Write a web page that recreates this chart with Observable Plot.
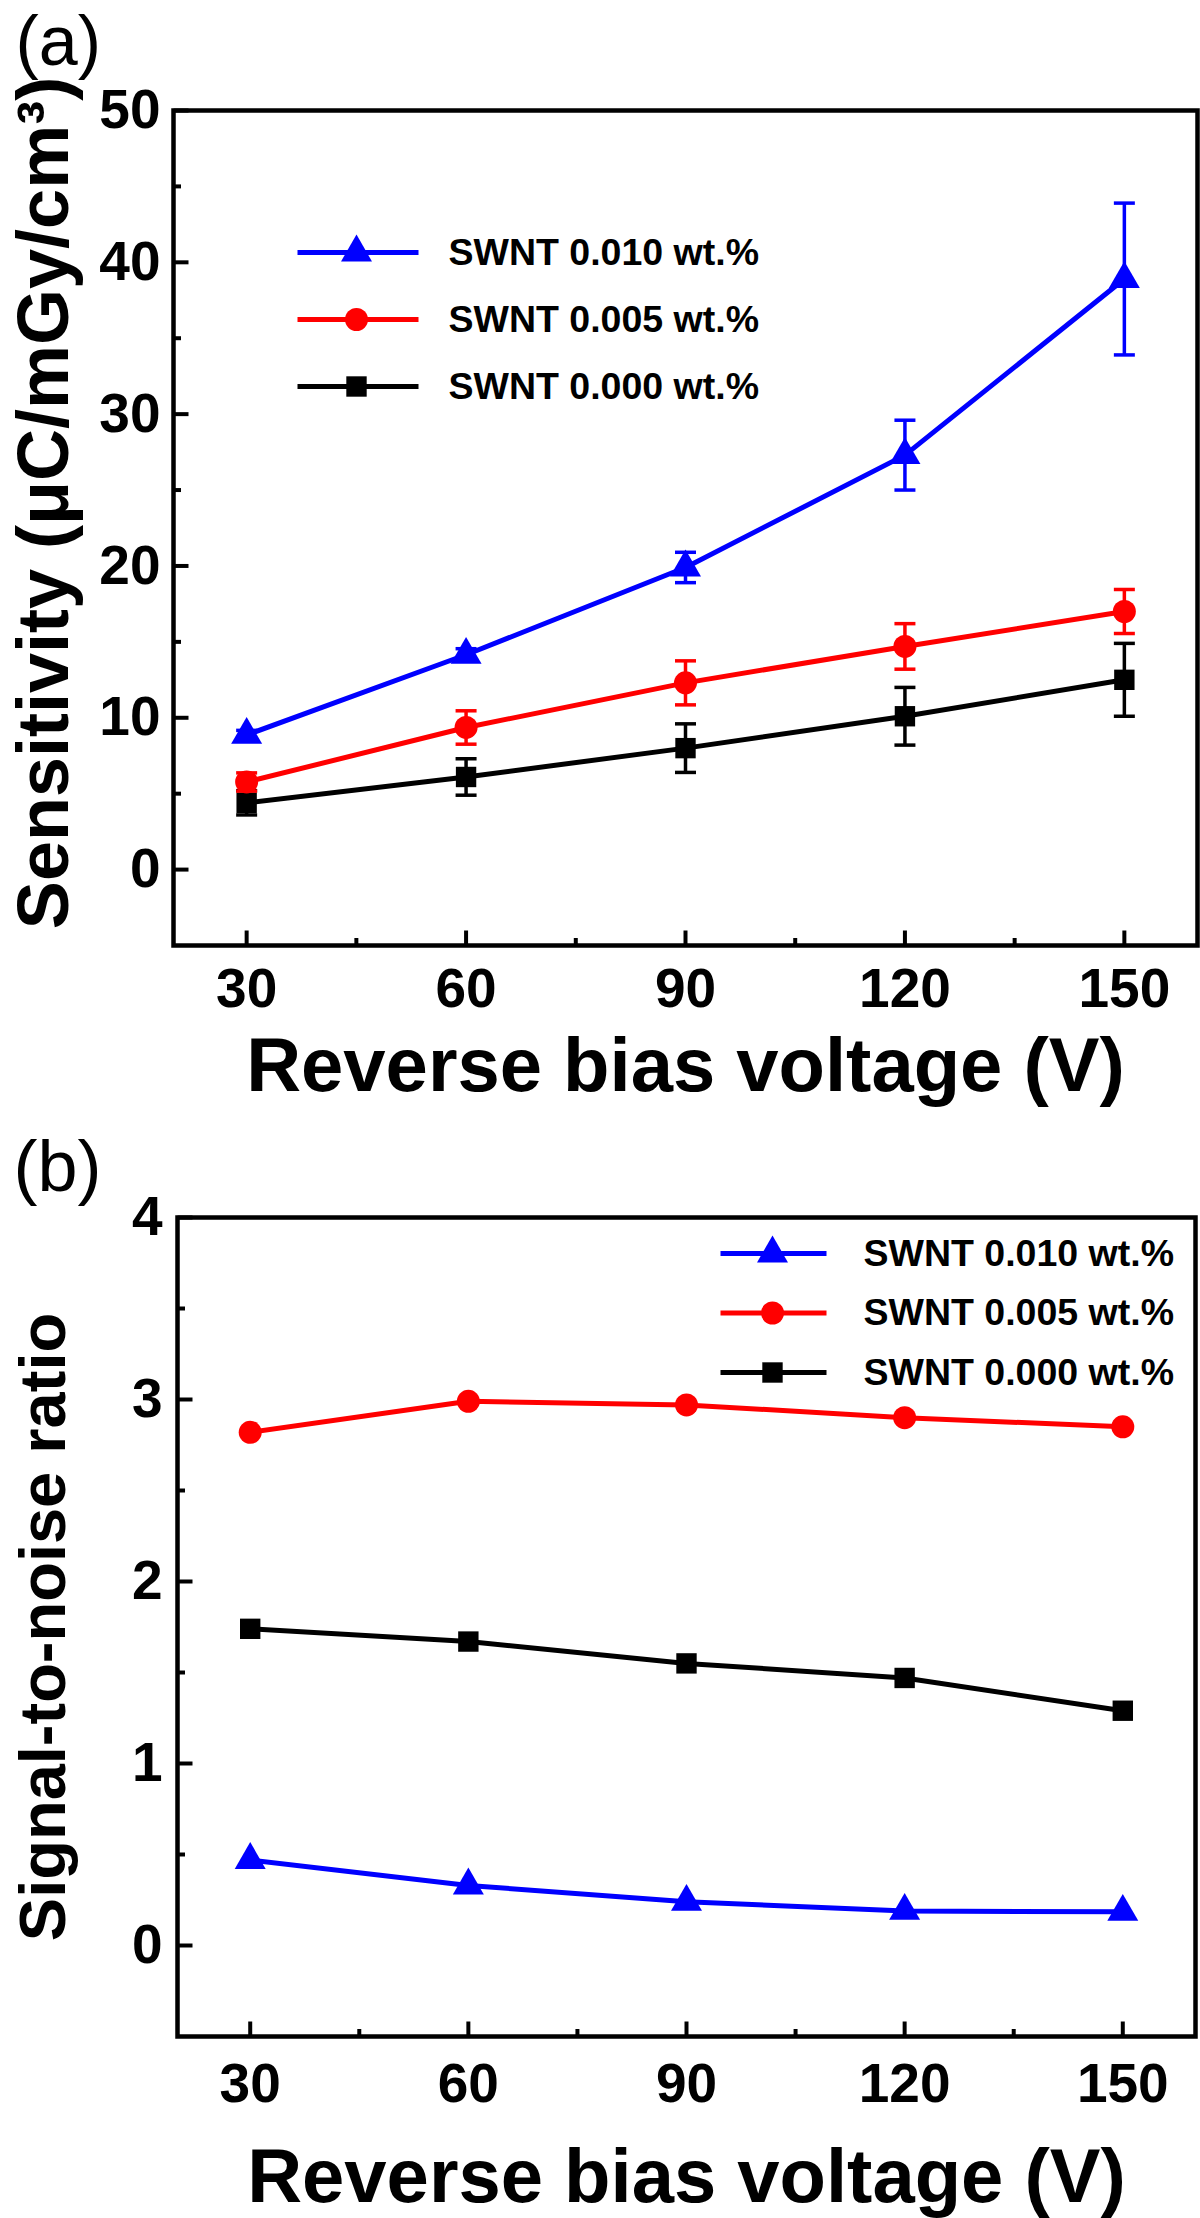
<!DOCTYPE html>
<html><head><meta charset="utf-8">
<script src="https://cdn.jsdelivr.net/npm/d3@7"></script>
<script src="https://cdn.jsdelivr.net/npm/@observablehq/plot@0.6"></script>
<style>
body{margin:0;background:#fff;width:1200px;height:2218px;position:relative;overflow:hidden;font-family:"Liberation Sans",Arial,Helvetica,sans-serif;}
.panel{position:absolute;left:0;}
</style></head><body>
<div id="a" class="panel" style="top:0"></div>
<div id="b" class="panel" style="top:1110px"></div>
<script>
// ---- data ----
const voltage = [30, 60, 90, 120, 150];
const seriesNames = ["SWNT 0.010 wt.%", "SWNT 0.005 wt.%", "SWNT 0.000 wt.%"];
const seriesColors = ["#0000ff", "#ff0000", "#000000"];
const seriesSymbols = ["triangle", "circle", "square"];
const sens010 = [8.87, 14.15, 19.9, 27.3, 38.9];
const sens010Err = [0.3, 0.4, 1.0, 2.3, 5.0];
const sens005 = [5.77, 9.36, 12.3, 14.7, 17.0];
const sens005Err = [0.6, 1.1, 1.45, 1.5, 1.45];
const sens000 = [4.4, 6.1, 8.0, 10.1, 12.5];
const sens000Err = [0.8, 1.2, 1.6, 1.9, 2.4];
const snr010 = [0.47, 0.33, 0.24, 0.19, 0.185];
const snr005 = [2.82, 2.99, 2.97, 2.90, 2.85];
const snr000 = [1.74, 1.67, 1.55, 1.47, 1.29];
const xMajor = [30, 60, 90, 120, 150];
const xMinor = [45, 75, 105, 135];
const yMajorA = [0, 10, 20, 30, 40, 50];
const yMinorA = [5, 15, 25, 35, 45];
const yMajorB = [0, 1, 2, 3, 4];
const yMinorB = [0.5, 1.5, 2.5, 3.5];
const xTitle = "Reverse bias voltage (V)";
const yTitleA = "Sensitivity (μC/mGy/cm³)";
const yTitleB = "Signal-to-noise ratio";

// ---- custom symbols ----
const rad = s => Math.sqrt(s / Math.PI);
const hSeg = {draw(c, s){ const r = rad(s); c.moveTo(-r, 0); c.lineTo(r, 0); }};
const upTick = {draw(c, s){ const r = rad(s); c.moveTo(0, 0); c.lineTo(0, -r); }};
const rightTick = {draw(c, s){ const r = rad(s); c.moveTo(0, 0); c.lineTo(r, 0); }};

const FONT = '"Liberation Sans", Arial, Helvetica, sans-serif';
const intFmt = d => String(d);

function rows(vals, errs) {
  return voltage.map((v, i) => ({x: v, y: vals[i], e: errs ? errs[i] : 0}));
}

function seriesMarks(series, withErr) {
  const m = [];
  for (const s of series) {
    if (withErr) {
      m.push(Plot.ruleX(s.data, {x: "x", y1: d => d.y - d.e, y2: d => d.y + d.e, stroke: s.color, strokeWidth: 3.5}));
      m.push(Plot.dot(s.data, {x: "x", y: d => d.y + d.e, symbol: hSeg, r: 10.5, stroke: s.color, strokeWidth: 3.5, fill: "none"}));
      m.push(Plot.dot(s.data, {x: "x", y: d => d.y - d.e, symbol: hSeg, r: 10.5, stroke: s.color, strokeWidth: 3.5, fill: "none"}));
    }
    m.push(Plot.line(s.data, {x: "x", y: "y", stroke: s.color, strokeWidth: 5}));
    m.push(Plot.dot(s.data, {x: "x", y: "y", symbol: s.symbol, r: 11.5, fill: s.color, stroke: "none"}));
  }
  return m;
}

function legendMarks(lg) {
  const m = [];
  seriesNames.forEach((name, i) => {
    const dy = lg.dy0 + lg.step * i;
    m.push(Plot.dot([0], {frameAnchor: "top-left", dx: lg.lineCx, dy, symbol: hSeg, r: lg.lineHalf, stroke: seriesColors[i], strokeWidth: 5, fill: "none"}));
    m.push(Plot.dot([0], {frameAnchor: "top-left", dx: lg.markCx, dy, symbol: seriesSymbols[i], r: 11.5, fill: seriesColors[i], stroke: "none"}));
    m.push(Plot.text([name], {frameAnchor: "top-left", dx: lg.textX, dy, text: d => d, textAnchor: "start", lineAnchor: "middle", fontSize: 37.5, fontWeight: "bold", fill: "#000"}));
  });
  return m;
}

function axisMarks(cfg) {
  return [
    Plot.axisX(cfg.xMajor, {tickSize: 0, tickPadding: cfg.xPad, tickFormat: intFmt, fontSize: 55, fontWeight: "bold", label: null, fill: "#000"}),
    Plot.axisY(cfg.yMajor, {tickSize: 0, tickPadding: cfg.yPad, tickFormat: intFmt, fontSize: 55, fontWeight: "bold", label: null, fill: "#000"}),
    Plot.dot(cfg.xMajor, {x: d => d, frameAnchor: "bottom", symbol: upTick, r: 15, stroke: "#000", strokeWidth: 4, fill: "none"}),
    Plot.dot(cfg.xMinor, {x: d => d, frameAnchor: "bottom", symbol: upTick, r: 7.5, stroke: "#000", strokeWidth: 4, fill: "none"}),
    Plot.dot(cfg.yMajor, {y: d => d, frameAnchor: "left", symbol: rightTick, r: 15, stroke: "#000", strokeWidth: 4, fill: "none"}),
    Plot.dot(cfg.yMinor, {y: d => d, frameAnchor: "left", symbol: rightTick, r: 7.5, stroke: "#000", strokeWidth: 4, fill: "none"}),
    Plot.text([xTitle], {frameAnchor: "bottom", dy: cfg.xTitleDy, text: d => d, lineAnchor: "bottom", fontSize: 76, fontWeight: "bold", fill: "#000"}),
    Plot.text([cfg.yTitle], {frameAnchor: "left", dx: cfg.yTitleDx, dy: cfg.yTitleDy, rotate: -90, text: d => d, lineAnchor: "bottom", textAnchor: "middle", fontSize: cfg.yTitleSize, fontWeight: "bold", fill: "#000"}),
    Plot.text([cfg.panel], {frameAnchor: "top-left", dx: cfg.pDx, dy: cfg.pDy, text: d => d, lineAnchor: "bottom", textAnchor: "start", fontSize: cfg.pSize, fontWeight: "normal", fill: "#000"}),
    Plot.frame({stroke: "#000", strokeWidth: 4.5})
  ];
}

// ---- panel (a) ----
const seriesA = [
  {data: rows(sens000, sens000Err), color: seriesColors[2], symbol: seriesSymbols[2]},
  {data: rows(sens005, sens005Err), color: seriesColors[1], symbol: seriesSymbols[1]},
  {data: rows(sens010, sens010Err), color: seriesColors[0], symbol: seriesSymbols[0]}
];
const plotA = Plot.plot({
  width: 1200, height: 1110,
  marginTop: 110, marginBottom: 165, marginLeft: 173, marginRight: 3,
  x: {domain: [20, 160]}, y: {domain: [-5, 50]},
  style: {fontFamily: FONT, color: "#000", background: "#fff", overflow: "visible"},
  marks: [
    ...seriesMarks(seriesA, true),
    ...legendMarks({dy0: 142, step: 67, lineCx: 184.5, lineHalf: 60.5, markCx: 183, textX: 275}),
    ...axisMarks({xMajor, xMinor, yMajor: yMajorA, yMinor: yMinorA, xPad: 22, yPad: 13, xTitleDy: 145,
      yTitle: yTitleA, yTitleDx: -106, yTitleDy: -25, yTitleSize: 72, panel: "(a)", pSize: 70, pDx: -158, pDy: -46})
  ]
});
document.getElementById("a").appendChild(plotA);

// ---- panel (b) ----
const seriesB = [
  {data: rows(snr000), color: seriesColors[2], symbol: seriesSymbols[2]},
  {data: rows(snr005), color: seriesColors[1], symbol: seriesSymbols[1]},
  {data: rows(snr010), color: seriesColors[0], symbol: seriesSymbols[0]}
];
const plotB = Plot.plot({
  width: 1200, height: 1108,
  marginTop: 107, marginBottom: 182, marginLeft: 177, marginRight: 5,
  x: {domain: [20, 160]}, y: {domain: [-0.5, 4]},
  style: {fontFamily: FONT, color: "#000", background: "#fff", overflow: "visible"},
  marks: [
    ...seriesMarks(seriesB, false),
    ...legendMarks({dy0: 36, step: 59.5, lineCx: 596, lineHalf: 53, markCx: 595, textX: 686}),
    ...axisMarks({xMajor, xMinor, yMajor: yMajorB, yMinor: yMinorB, xPad: 26, yPad: 15, xTitleDy: 165,
      yTitle: yTitleB, yTitleDx: -113, yTitleDy: 0, yTitleSize: 65, panel: "(b)", pSize: 72, pDx: -164, pDy: -27})
  ]
});
document.getElementById("b").appendChild(plotB);
</script>
</body></html>
